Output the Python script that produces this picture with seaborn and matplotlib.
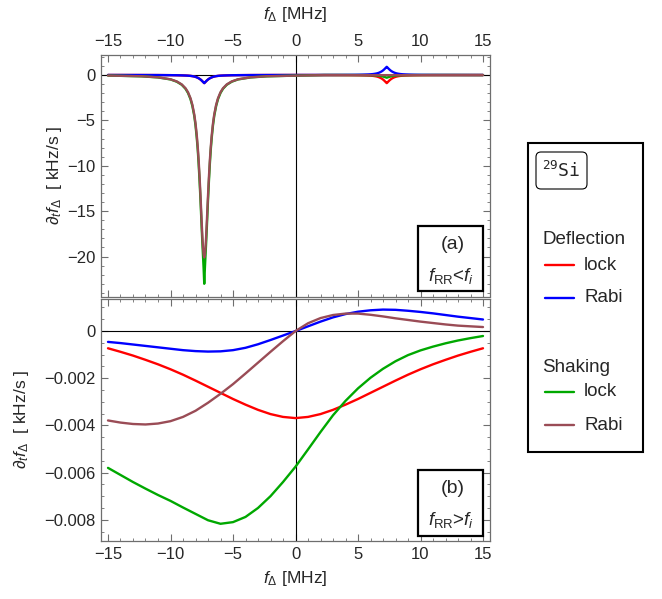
import numpy as np
import pandas as pd
import matplotlib
matplotlib.use("Agg")
import matplotlib.pyplot as plt
import seaborn as sns
from matplotlib.patches import Rectangle, FancyBboxPatch
from matplotlib.ticker import MultipleLocator, FuncFormatter

# ---- data ----
# panel (a): f_RR < f_i, narrow resonances at +-7.3 MHz (kHz/s).
# Each dip is read as a half profile vs. distance from the resonance.
res_center = 7.3
dip_offsets = [0, 0.05, 0.1, 0.15, 0.2, 0.25, 0.3, 0.37, 0.45, 0.52, 0.6,
               0.7, 0.8, 0.95, 1.1, 1.3, 1.5, 1.8, 2.2, 2.7, 3.7, 5.0]
shak_rabi_dip = [-20.1, -19.82, -19.02, -17.83, -16.38, -14.84, -13.31, -11.32, -9.36, -7.94, -6.61,
                 -5.32, -4.34, -3.29, -2.56, -1.9, -1.46, -1.04, -0.71, -0.475, -0.26, -0.14]
shak_lock_dip = [-23.0, -21.3, -19.9, -18.5, -17.0, -15.4, -13.8, -11.8, -9.75, -8.25, -6.9,
                 -5.53, -4.5, -3.42, -2.66, -1.98, -1.52, -1.08, -0.74, -0.49, -0.27, -0.15]
small_dip = [-0.9, -0.83, -0.76, -0.69, -0.62, -0.56, -0.5, -0.43, -0.36, -0.31, -0.26,
             -0.21, -0.17, -0.13, -0.1, -0.075, -0.06, -0.045, -0.03, -0.02, -0.01, -0.005]
shak_lock_dip_right = [-0.3, -0.28, -0.25, -0.23, -0.21, -0.19, -0.17, -0.14, -0.12, -0.1, -0.09,
                       -0.07, -0.06, -0.04, -0.03, -0.025, -0.02, -0.015, -0.01, -0.007, -0.003, -0.002]
# values at x = -15, 0, 15 for each series
defl_lock_edges = [0, 0, 0]
defl_rabi_edges = [0, 0, 0]
shak_lock_edges = [-0.06, -0.07, -0.01]
shak_rabi_edges = [-0.06, -0.07, -0.02]

# panel (b): f_RR > f_i (kHz/s)
x_bot = list(range(-15, 16))
defl_lock_bot = [-0.00073, -0.00088, -0.00104, -0.00122, -0.00141, -0.00162, -0.00185, -0.0021,
                 -0.00236, -0.00262, -0.00288, -0.00312, -0.00334, -0.00352, -0.00364, -0.00369,
                 -0.00364, -0.00352, -0.00334, -0.00312, -0.00288, -0.00262, -0.00236, -0.0021,
                 -0.00185, -0.00162, -0.00141, -0.00122, -0.00104, -0.00088, -0.00073]
defl_rabi_bot = [-0.00046, -0.00051, -0.00057, -0.00063, -0.00069, -0.00075, -0.00081, -0.00085,
                 -0.00087, -0.00086, -0.00081, -0.00071, -0.00056, -0.00038, -0.00019, 0.0,
                 0.0002, 0.0004, 0.00058, 0.00072, 0.00082, 0.00088, 0.00091, 0.0009,
                 0.00086, 0.00081, 0.00075, 0.00068, 0.00061, 0.00055, 0.00049]
shak_lock_bot = [-0.0058, -0.0061, -0.0064, -0.00668, -0.00695, -0.0072, -0.00748, -0.00775,
                 -0.00802, -0.00817, -0.0081, -0.00788, -0.0075, -0.007, -0.0064, -0.00575,
                 -0.00502, -0.00428, -0.00357, -0.00296, -0.00243, -0.00198, -0.0016, -0.00128,
                 -0.00102, -0.00082, -0.00066, -0.00052, -0.0004, -0.0003, -0.00021]
shak_rabi_bot = [-0.00379, -0.00388, -0.00394, -0.00396, -0.00392, -0.00382, -0.00364, -0.00338,
                 -0.00304, -0.00266, -0.00225, -0.0018, -0.00134, -0.00088, -0.00043, 0.0,
                 0.00033, 0.00055, 0.00068, 0.00074, 0.00074, 0.00069, 0.00062, 0.00054,
                 0.00047, 0.0004, 0.00034, 0.00028, 0.00023, 0.0002, 0.00017]

series_names = ["Deflection lock", "Deflection Rabi", "Shaking lock", "Shaking Rabi"]
series_colors = ["#ff0000", "#0000ff", "#00a800", "#9a4c56"]


def dip_x(center):
    return [center - o for o in dip_offsets[::-1]] + [center + o for o in dip_offsets[1:]]


def dip_y(profile):
    return list(profile[::-1]) + list(profile[1:])


def top_series(edges, left_profile, right_profile):
    return ([edges[0]] + dip_y(left_profile) + [edges[1]] +
            dip_y(right_profile) + [edges[2]])


x_top = [-15] + dip_x(-res_center) + [0] + dip_x(res_center) + [15]
top_df = pd.DataFrame({
    "x": x_top,
    series_names[0]: top_series(defl_lock_edges, small_dip, small_dip),
    series_names[1]: top_series(defl_rabi_edges, small_dip, [-v for v in small_dip]),
    series_names[2]: top_series(shak_lock_edges, shak_lock_dip, shak_lock_dip_right),
    series_names[3]: top_series(shak_rabi_edges, shak_rabi_dip, [0.0] * len(dip_offsets)),
})
top_df.loc[top_df["x"] > 1, series_names[3]] = -0.02
bot_df = pd.DataFrame({"x": x_bot, series_names[0]: defl_lock_bot, series_names[1]: defl_rabi_bot,
                       series_names[2]: shak_lock_bot, series_names[3]: shak_rabi_bot})

sns.set_style("ticks")
plt.rcParams["font.family"] = ["Liberation Sans", "DejaVu Sans"]
plt.rcParams["mathtext.fontset"] = "custom"
plt.rcParams["mathtext.rm"] = "Liberation Sans"
plt.rcParams["mathtext.it"] = "Liberation Sans:italic"
plt.rcParams["mathtext.bf"] = "Liberation Sans:bold"
plt.rcParams["mathtext.tt"] = "DejaVu Sans Mono"

W, H = 662, 599
fig = plt.figure(figsize=(W / 100, H / 100), dpi=100)


def px_axes(l, t, r, b):
    return fig.add_axes([l / W, 1 - b / H, (r - l) / W, (b - t) / H])


ax_top = px_axes(101, 55, 490, 296.5)
ax_bot = px_axes(101, 298.5, 490, 541)

frame_col = "#6e6e6e"
for ax, df in [(ax_top, top_df), (ax_bot, bot_df)]:
    ax.axvline(0, color="black", lw=0.8, zorder=1)
    ax.axhline(0, color="black", lw=0.8, zorder=1)
    for name, col in zip(series_names, series_colors):
        sns.lineplot(data=df, x="x", y=name, color=col, lw=1.7, ax=ax, zorder=3)
    ax.set_xlim(-15.56, 15.56)
    ax.xaxis.set_major_locator(MultipleLocator(5))
    ax.xaxis.set_minor_locator(MultipleLocator(1))
    ax.tick_params(which="both", direction="in", top=True, right=True,
                   color=frame_col, labelsize=12, pad=4)
    ax.tick_params(which="major", length=5, width=0.8)
    ax.tick_params(which="minor", length=2.5, width=0.6)
    for sp in ax.spines.values():
        sp.set_color(frame_col)
        sp.set_linewidth(0.9)
    ax.set_xlabel("")
    ax.set_ylabel("")

# top panel axes
ax_top.set_ylim(-24.4, 2.2)
ax_top.yaxis.set_major_locator(MultipleLocator(5))
ax_top.yaxis.set_minor_locator(MultipleLocator(1))
ax_top.tick_params(axis="x", labeltop=True, labelbottom=False)
ax_top.xaxis.set_label_position("top")
ax_top.set_xlabel(r"$f_\Delta$ [MHz]", fontsize=12.5, labelpad=11)
ax_top.set_ylabel(r"$\partial_t f_\Delta$  [ kHz/s ]", fontsize=12.5)
ax_top.yaxis.set_label_coords(-0.095, 0.5)

# bottom panel axes
ax_bot.set_ylim(-0.0089, 0.00138)
ax_bot.yaxis.set_major_locator(MultipleLocator(0.002))
ax_bot.yaxis.set_minor_locator(MultipleLocator(0.0005))
ax_bot.yaxis.set_major_formatter(FuncFormatter(
    lambda v, _: "0" if abs(v) < 1e-12 else f"{v:.3f}".replace("-", "\u2212")))
ax_bot.set_xlabel(r"$f_\Delta$ [MHz]", fontsize=12.5, labelpad=5)
ax_bot.set_ylabel(r"$\partial_t f_\Delta$  [ kHz/s ]", fontsize=12.5)
ax_bot.yaxis.set_label_coords(-0.18, 0.5)

# panel tags
for ax, tag, rel in [(ax_top, "(a)", "<"), (ax_bot, "(b)", ">")]:
    ax.add_patch(Rectangle((0.815, 0.022), 0.167, 0.27, transform=ax.transAxes,
                           fill=True, facecolor="white", edgecolor="black", lw=1.6, zorder=5))
    ax.text(0.905, 0.215, tag, transform=ax.transAxes, ha="center", va="center",
            fontsize=14, zorder=6)
    ax.text(0.9, 0.085, r"$f_{\mathrm{RR}}$" + rel + r"$f_i$", transform=ax.transAxes,
            ha="center", va="center", fontsize=13.5, zorder=6)

# legend panel drawn in figure pixel space
lg = fig.add_axes([0, 0, 1, 1], facecolor="none")
lg.set_xlim(0, W)
lg.set_ylim(H, 0)
lg.axis("off")
lg.add_patch(Rectangle((528, 143), 115, 309, fill=False, edgecolor="black", lw=1.5))
lg.add_patch(FancyBboxPatch((536, 152), 51, 37, boxstyle="round,pad=0,rounding_size=5",
                            fill=False, edgecolor="black", lw=0.8))
lg.text(561.5, 171, r"$^{\mathtt{29}}\mathtt{Si}$", fontsize=13,
        ha="center", va="center")
legend_rows = [("Deflection", 239), ("lock", 265), ("Rabi", 298),
               ("Shaking", 367), ("lock", 392), ("Rabi", 425)]
line_rows = [r for r in legend_rows if r[0] in ("lock", "Rabi")]
for (label, yy), col in zip(line_rows, series_colors):
    lg.plot([545, 574], [yy, yy], color=col, lw=1.7)
    lg.text(584, yy, label, fontsize=13.5, ha="left", va="center")
for label, yy in legend_rows:
    if label in ("Deflection", "Shaking"):
        lg.text(542, yy, label, fontsize=13.5, ha="left", va="center")

fig.savefig("out.png", dpi=100)
